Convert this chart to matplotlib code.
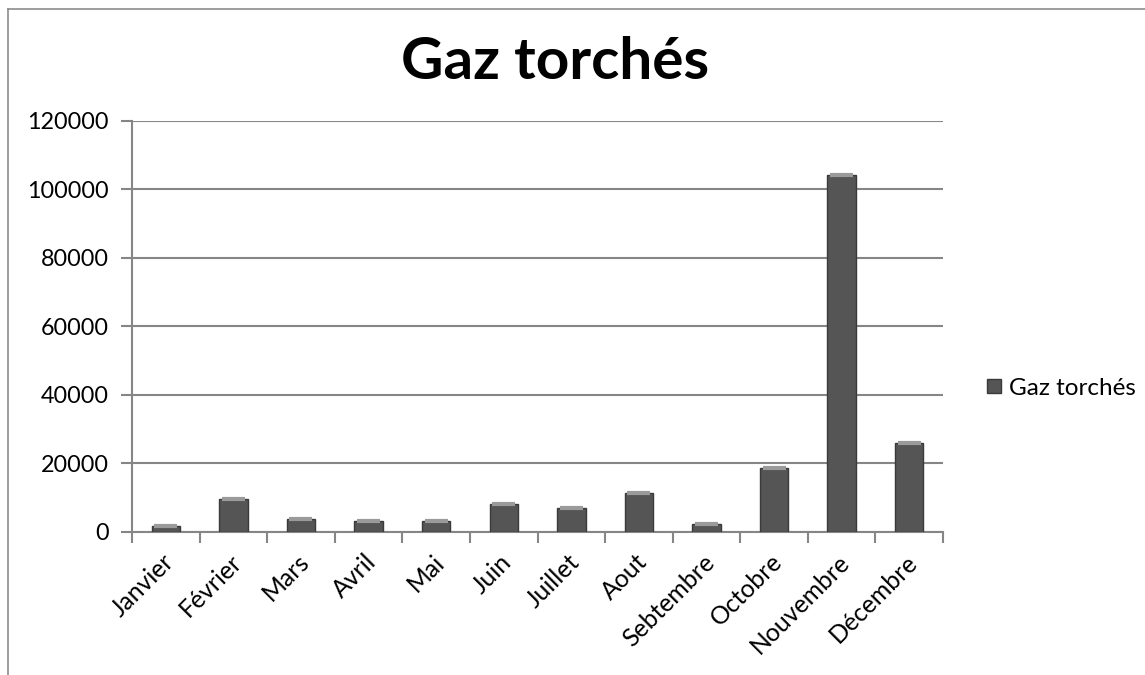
import matplotlib
matplotlib.use("Agg")
import matplotlib.pyplot as plt
from matplotlib.lines import Line2D
from matplotlib.transforms import ScaledTranslation
import numpy as np

months = ["Janvier", "Février", "Mars", "Avril", "Mai", "Juin", "Juillet",
          "Aout", "Sebtembre", "Octobre", "Nouvembre", "Décembre"]
gaz_torches = [1800, 9600, 3900, 3300, 3300, 8200, 7000,
               11300, 2200, 18600, 104300, 26000]
y_ticks = [0, 20000, 40000, 60000, 80000, 100000, 120000]

plt.rcParams["font.family"] = ["Lato", "DejaVu Sans"]
GRID = "#868686"
BAR = "#555555"

fig = plt.figure(figsize=(11.45, 6.75), dpi=100)
ax = fig.add_axes([0.1153, 0.2119, 0.7083, 0.6089])

x = np.arange(len(months))
ax.bar(x, gaz_torches, width=0.42, color=BAR, edgecolor="#3a3a3a",
       linewidth=1.0, zorder=3)
# light bevel on top of each bar
for xi, v in zip(x, gaz_torches):
    ax.plot([xi - 0.17, xi + 0.17], [v, v], color="#9a9a9a", lw=3,
            solid_capstyle="butt", zorder=4)

ax.set_xlim(-0.5, len(months) - 0.5)
ax.set_ylim(0, 120000)
ax.set_yticks(y_ticks)
ax.set_yticklabels([str(t) for t in y_ticks])
ax.yaxis.grid(True, color=GRID, linewidth=1.5, zorder=0)
ax.set_xticks(x)
ax.set_xticklabels(months, rotation=45, ha="right", va="top",
                   rotation_mode="anchor")
ax.set_xticks(np.arange(-0.5, len(months)), minor=True)
ax.tick_params(axis="x", which="major", length=0, pad=13, labelsize=17.8)
ax.tick_params(axis="x", which="minor", length=8, width=1.5, color=GRID)
ax.tick_params(axis="y", length=8, width=1.5, color=GRID, labelsize=16.8,
               pad=9)
shift = ScaledTranslation(-4 / 100, 0, fig.dpi_scale_trans)
for lbl in ax.get_xticklabels():
    lbl.set_transform(lbl.get_transform() + shift)

for side in ["top", "right"]:
    ax.spines[side].set_visible(False)
for side in ["left", "bottom"]:
    ax.spines[side].set_color(GRID)
    ax.spines[side].set_linewidth(1.5)

fig.text(0.4847, 0.907, "Gaz torchés", ha="center", va="center",
         fontsize=42, fontweight="bold")

handle = Line2D([], [], marker="s", linestyle="none", markersize=10,
                markerfacecolor=BAR, markeredgecolor="#3a3a3a")
fig.legend([handle], ["Gaz torchés"], loc="center left",
           bbox_to_anchor=(0.838, 0.425), frameon=False, fontsize=17.5,
           handletextpad=0.15, handlelength=1.0)

# chart border (top and left edges visible in the crop)
fig.add_artist(Line2D([0.007, 0.007], [0.0, 0.987], color="#8c8c8c", lw=1.2,
                      transform=fig.transFigure))
fig.add_artist(Line2D([0.007, 1.0], [0.987, 0.987], color="#8c8c8c", lw=1.2,
                      transform=fig.transFigure))

fig.savefig("out.png", dpi=100)
